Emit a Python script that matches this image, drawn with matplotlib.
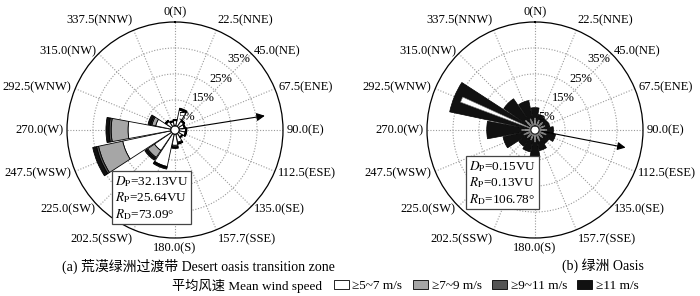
import numpy as np
import matplotlib
matplotlib.use("Agg")
import matplotlib.pyplot as plt
from matplotlib.patches import Patch

plt.rcParams['font.family'] = ['Liberation Serif', 'Noto Sans CJK SC']
plt.rcParams['mathtext.fontset'] = 'stix'

# directions, clockwise from north
dir_deg = np.arange(16) * 22.5
dir_labels = ["0(N)", "22.5(NNE)", "45.0(NE)", "67.5(ENE)", "90.0(E)", "112.5(ESE)",
              "135.0(SE)", "157.7(SSE)", "180.0(S)", "202.5(SSW)", "225.0(SW)",
              "247.5(WSW)", "270.0(W)", "292.5(WNW)", "315.0(NW)", "337.5(NNW)"]
ring_labels = ["5%", "15%", "25%", "35%"]
ring_values = [5, 15, 25, 35]

speed_labels = ["≥5~7 m/s", "≥7~9 m/s", "≥9~11 m/s", "≥11 m/s"]
speed_colors = ["white", "#a6a6a6", "#555555", "#111111"]

# (a) desert oasis transition zone, frequency (%) per speed class
a_5_7 = [2.0, 6.2, 2.4, 2.0, 2.4, 2.4, 1.6, 3.2, 4.3, 12.8, 8.0, 19.0, 16.5, 6.0, 2.4, 1.6]
a_7_9 = [0.3, 0.3, 0.3, 0.2, 0.3, 0.3, 0.2, 0.4, 0.6, 0.3, 3.2, 9.5, 6.5, 1.5, 0.3, 0.2]
a_9_11 = [0.1, 0.2, 0.1, 0.1, 0.1, 0.1, 0.1, 0.2, 0.2, 0.2, 0.5, 0.8, 0.8, 0.5, 0.1, 0.1]
a_11 = [0.1, 0.3, 0.2, 0.2, 0.2, 0.2, 0.1, 0.2, 0.4, 0.5, 0.8, 1.5, 1.2, 1.0, 0.2, 0.1]

# (b) oasis: total behind in black, lower classes as narrow bars on top
b_total = [7.0, 4.5, 4.0, 4.2, 5.5, 6.5, 4.8, 6.5, 9.0, 7.0, 6.0, 11.0, 17.0, 32.0, 13.0, 10.0]
b_5_7 = [3.0, 2.5, 2.5, 2.5, 3.0, 3.0, 2.5, 3.0, 3.0, 2.5, 2.5, 3.0, 3.5, 29.0, 3.5, 3.0]
b_7_9 = [2.0, 1.8, 1.8, 1.8, 2.0, 2.0, 1.8, 2.0, 2.0, 1.8, 1.8, 2.0, 2.2, 0.8, 2.2, 2.0]
b_9_11 = [1.0, 0.8, 0.8, 0.8, 1.0, 1.0, 0.8, 1.0, 1.0, 0.8, 0.8, 1.0, 1.2, 0.5, 1.2, 1.0]

# resultant drift direction (deg) and length (%) as drawn
a_arrow = (81, 34.5)
b_arrow = (101, 35)

a_stats = [r"$D_{\mathrm{P}}$=32.13VU", r"$R_{\mathrm{P}}$=25.64VU", r"$R_{\mathrm{D}}$=73.09°"]
b_stats = [r"$D_{\mathrm{P}}$=0.15VU", r"$R_{\mathrm{P}}$=0.13VU", r"$R_{\mathrm{D}}$=106.78°"]

W, H = 700, 296
fig = plt.figure(figsize=(7, 2.96), dpi=100)


def rose_frame(cx, cy, arrow, stats, box_xy):
    R = 108
    ax = fig.add_axes([(cx - R) / W, (H - cy - R) / H, 2 * R / W, 2 * R / H],
                      projection='polar')
    ax.set_theta_zero_location('N')
    ax.set_theta_direction(-1)
    ax.set_ylim(0, 40)
    ax.set_rorigin(-1.6)
    ax.set_xticks(np.deg2rad(dir_deg))
    ax.set_xticklabels([])
    ax.set_yticks([10, 20, 30])
    ax.set_yticklabels([])
    ax.grid(True, color='#999999', linestyle=(0, (1, 1.5)), linewidth=0.8)
    ax.spines['polar'].set_linewidth(0.9)
    ax.plot(np.linspace(0, 2 * np.pi, 60), np.zeros(60), color='black', lw=0.6, zorder=4)
    for lab, d in zip(dir_labels, dir_deg):
        s, c = np.sin(np.deg2rad(d)), np.cos(np.deg2rad(d))
        ha = 'center' if abs(s) < 0.2 else ('left' if s > 0 else 'right')
        va = 'center'
        if c > 0.9:
            va = 'bottom'
        elif c < -0.9:
            va = 'top'
        ax.text(np.deg2rad(d), 41.5, lab, ha=ha, va=va, fontsize=9)
    for lab, v in zip(ring_labels, ring_values):
        ax.text(np.deg2rad(42), v, lab, ha='center', va='center', fontsize=9, zorder=5)
    ax.annotate('', xy=(np.deg2rad(arrow[0]), arrow[1]), xytext=(np.deg2rad(arrow[0]), 0),
                arrowprops=dict(arrowstyle='-|>', color='black', lw=0.8, mutation_scale=12),
                annotation_clip=False, zorder=6)
    fig.text(box_xy[0] / W, 1 - box_xy[1] / H, "\n".join(stats), ha='left', va='top',
             fontsize=9.5, linespacing=1.15,
             bbox=dict(boxstyle='square,pad=0.2', facecolor='white', edgecolor='#444444', lw=0.9))
    return ax


theta = np.deg2rad(dir_deg)

# (a) stacked bars
ax_a = rose_frame(175, 130, a_arrow, a_stats, (115, 174))
bottom = np.zeros(16)
for vals, col in zip([a_5_7, a_7_9, a_9_11, a_11], speed_colors):
    ax_a.bar(theta, vals, width=np.deg2rad(21), bottom=bottom, color=col,
             edgecolor='black', linewidth=0.6, zorder=3)
    bottom = bottom + np.array(vals)

# (b) wide black totals, narrower class bars over them
ax_b = rose_frame(535, 130, b_arrow, b_stats, (469, 159))
ax_b.bar(theta, b_total, width=np.deg2rad(21), color=speed_colors[3],
         edgecolor='black', linewidth=0.5, zorder=3)
for vals, col, w in [(b_9_11, speed_colors[2], 14), (b_7_9, speed_colors[1], 9),
                     (b_5_7, speed_colors[0], 4)]:
    ax_b.bar(theta, vals, width=np.deg2rad(w), color=col, edgecolor='#777777',
             linewidth=0.4, zorder=3)

fig.text(198 / W, 1 - 266 / H, "(a) 荒漠绿洲过渡带 Desert oasis transition zone",
         ha='center', va='center', fontsize=10)
fig.text(603 / W, 1 - 266 / H, "(b) 绿洲 Oasis", ha='center', va='center', fontsize=10)
fig.text(172 / W, 1 - 286 / H, "平均风速 Mean wind speed", ha='left', va='center', fontsize=9.5)
handles = [Patch(facecolor=c, edgecolor='black', linewidth=0.6) for c in speed_colors]
fig.legend(handles, speed_labels, ncol=4, loc='center left', bbox_to_anchor=(334 / W, 1 - 286 / H),
           frameon=False, fontsize=9.5, handlelength=1.1, handleheight=0.7, handletextpad=0.3,
           columnspacing=0.8, borderpad=0, borderaxespad=0)

fig.savefig("out.png", dpi=100)
